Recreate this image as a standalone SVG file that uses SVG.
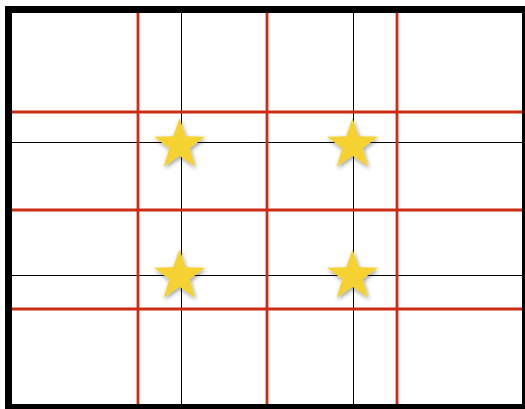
<svg xmlns="http://www.w3.org/2000/svg" width="525" height="409" viewBox="0 0 525 409">
<defs>
<style>
.red{stroke:#cc2b14;stroke-width:2.8;fill:none}
.blk{stroke:#000;stroke-width:1;fill:none}
.star{fill:#f5d230;filter:url(#sh)}
</style>
<filter id="sh" x="-30%" y="-30%" width="160%" height="160%">
<feDropShadow dx="1" dy="2" stdDeviation="2" flood-color="#000" flood-opacity="0.4"/>
</filter>
<polygon id="st" points="0,-26.8 6.3,-8.7 25.5,-8.3 10.2,3.3 15.8,21.7 0,10.8 -15.8,21.7 -10.2,3.3 -25.5,-8.3 -6.3,-8.7"/>
</defs>
<rect x="0" y="0" width="525" height="409" fill="#fff"/>
<g id="connectors">
<line class="blk" x1="181.5" y1="9" x2="181.5" y2="405"/>
<line class="blk" x1="353.5" y1="9" x2="353.5" y2="405"/>
<line class="blk" x1="9" y1="142.5" x2="525" y2="142.5"/>
<line class="blk" x1="9" y1="275.5" x2="525" y2="275.5"/>
<line class="red" x1="138" y1="9" x2="138" y2="409"/>
<line class="red" x1="267" y1="9" x2="267" y2="409"/>
<line class="red" x1="397" y1="9" x2="397" y2="409"/>
<line class="red" x1="9" y1="112" x2="525" y2="112"/>
<line class="red" x1="9" y1="210" x2="525" y2="210"/>
<line class="red" x1="9" y1="309" x2="525" y2="309"/>
</g>
<rect id="border" x="8.5" y="9.5" width="517" height="398" fill="none" stroke="#000" stroke-width="7"/>
<g id="star1"><use href="#st" class="star" x="179.5" y="145"/></g>
<g id="star2"><use href="#st" class="star" x="352.5" y="145"/></g>
<g id="star3"><use href="#st" class="star" x="179.5" y="276"/></g>
<g id="star4"><use href="#st" class="star" x="352.5" y="276"/></g>
</svg>
